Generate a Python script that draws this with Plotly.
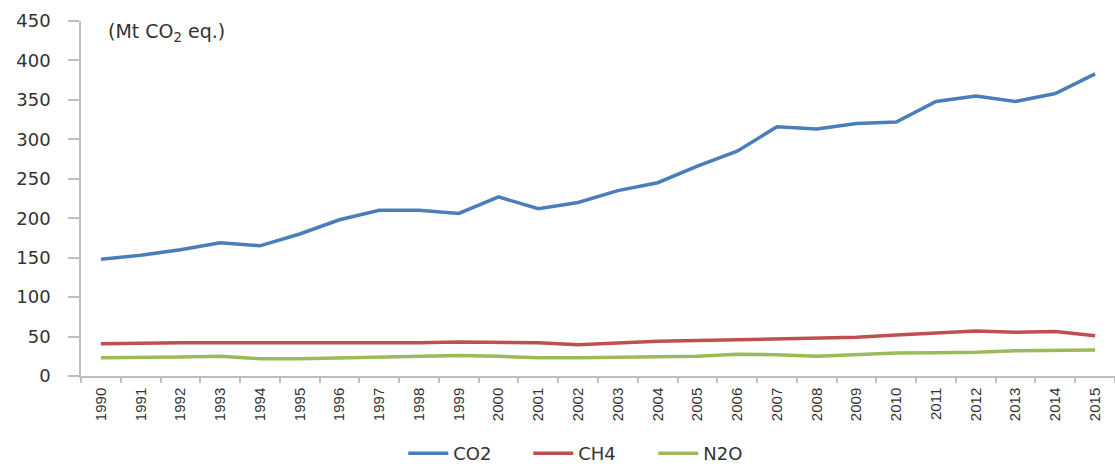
import plotly.graph_objects as go

years = [str(y) for y in range(1990, 2016)]

co2 = [148, 153, 160, 169, 165, 180, 198, 210, 210, 206, 227, 212, 220, 235, 245,
       266, 285, 316, 313, 320, 322, 348, 355, 348, 358, 383]
ch4 = [41, 42, 42, 42, 42, 41, 42, 41, 42, 43, 43, 42, 39.5, 42, 44,
       45, 46, 48, 49, 49, 52, 54.5, 57, 55.5, 56.5, 51]
n2o = [23, 23, 24, 25, 22, 22, 23, 24, 26, 26, 25, 23, 23, 24, 25,
       25, 27.5, 27, 25, 27, 29, 29.5, 30, 32, 32.5, 33]

y_ticks = list(range(0, 451, 50))

series = [
    ("CO2", co2, "#4A7EBB"),
    ("CH4", ch4, "#C0504D"),
    ("N2O", n2o, "#9BBB59"),
]

fig = go.Figure()
for name, vals, color in series:
    fig.add_trace(go.Scatter(
        x=years, y=vals, name=name, mode="lines",
        line=dict(color=color, width=3.5),
    ))

axis_gray = "#BFBFBF"
text_gray = "#333333"

fig.update_layout(
    width=1115, height=472,
    margin=dict(l=81, r=0, t=21, b=91, pad=0),
    paper_bgcolor="white", plot_bgcolor="white",
    font=dict(family="DejaVu Sans", color=text_gray),
    showlegend=True,
    legend=dict(
        orientation="h", x=0.493, xanchor="center", y=-0.22, yanchor="middle",
        font=dict(size=18, color=text_gray, family="DejaVu Sans"),
        itemwidth=40, tracegroupgap=0, entrywidth=70,
    ),
    xaxis=dict(
        type="category", categoryorder="array", categoryarray=years,
        range=[-0.5, len(years) - 0.5],
        showgrid=False, zeroline=False,
        showline=True, linecolor=axis_gray, linewidth=1.5,
        ticks="outside", ticklen=5, tickcolor=axis_gray, tickwidth=1.5,
        tickson="boundaries", tickangle=-90,
        tickfont=dict(family="Liberation Sans", size=15, color=text_gray),
        ticklabelstandoff=4,
    ),
    yaxis=dict(
        range=[0, 450], tickvals=y_ticks,
        showgrid=False, zeroline=False,
        showline=True, linecolor=axis_gray, linewidth=1.5,
        ticks="outside", ticklen=11, tickcolor=axis_gray, tickwidth=1.5,
        tickfont=dict(family="DejaVu Sans", size=18, color=text_gray),
        ticklabelstandoff=14,
    ),
    annotations=[dict(
        text="(Mt CO<sub>2</sub> eq.)", xref="paper", yref="paper",
        x=0.024, y=0.969, xanchor="left", yanchor="middle", showarrow=False,
        font=dict(family="DejaVu Sans", size=19, color=text_gray),
    )],
)

fig.write_html("out.html")
